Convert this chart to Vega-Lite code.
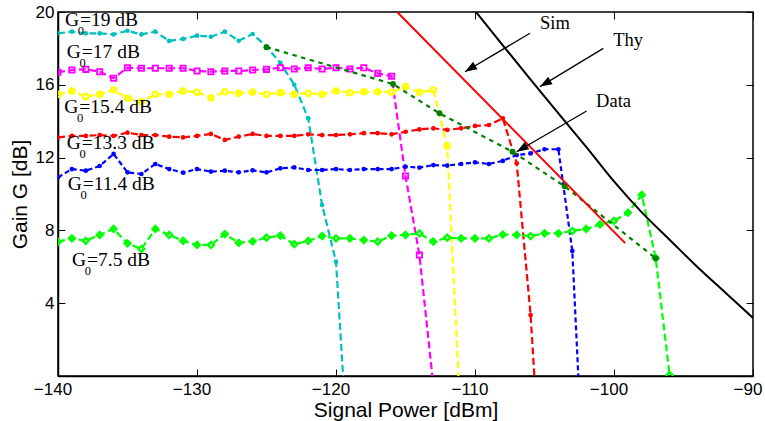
{
  "$schema": "https://vega.github.io/schema/vega-lite/v6.json",
  "width": 695,
  "height": 364,
  "autosize": "none",
  "padding": {"left": 58, "top": 12, "right": 12, "bottom": 45},
  "background": "white",
  "config": {
    "view": {"stroke": "black", "strokeWidth": 1.5},
    "axis": {
      "grid": false, "domainColor": "black", "domainWidth": 1.5,
      "tickColor": "black", "tickWidth": 1, "tickSize": -7,
      "labelFont": "Liberation Sans", "labelFontSize": 17, "labelColor": "black",
      "titleFont": "Liberation Sans", "titleFontSize": 21, "titleFontWeight": "normal", "titleColor": "black"
    }
  },
  "resolve": {"axis": {"x": "independent", "y": "independent"}},
  "datasets": {
    "g": [
      {"s":"c","x":-140,"g":18.83},{"s":"c","x":-139,"g":18.92},{"s":"c","x":-138,"g":18.83},{"s":"c","x":-137,"g":18.83},{"s":"c","x":-136,"g":18.77},{"s":"c","x":-135,"g":18.97},{"s":"c","x":-134,"g":18.77},{"s":"c","x":-133,"g":18.92},{"s":"c","x":-132,"g":18.41},{"s":"c","x":-131,"g":18.52},{"s":"c","x":-130,"g":18.70},{"s":"c","x":-129,"g":18.64},{"s":"c","x":-128,"g":18.92},{"s":"c","x":-127,"g":18.42},{"s":"c","x":-126,"g":18.79},{"s":"c","x":-125,"g":18.1},{"s":"c","x":-124,"g":17.2},{"s":"c","x":-123,"g":16.0},{"s":"c","x":-122,"g":14.16},{"s":"c","x":-121,"g":9.4},{"s":"c","x":-120,"g":6.28},{"s":"c","x":-119,"g":-6},
      {"s":"m","x":-140,"g":16.69},{"s":"m","x":-139,"g":16.81},{"s":"m","x":-138,"g":16.85},{"s":"m","x":-137,"g":16.72},{"s":"m","x":-136,"g":16.36},{"s":"m","x":-135,"g":16.94},{"s":"m","x":-134,"g":16.91},{"s":"m","x":-133,"g":16.91},{"s":"m","x":-132,"g":16.91},{"s":"m","x":-131,"g":16.91},{"s":"m","x":-130,"g":16.76},{"s":"m","x":-129,"g":16.72},{"s":"m","x":-128,"g":16.76},{"s":"m","x":-127,"g":16.76},{"s":"m","x":-126,"g":16.81},{"s":"m","x":-125,"g":16.85},{"s":"m","x":-124,"g":16.94},{"s":"m","x":-123,"g":16.87},{"s":"m","x":-122,"g":16.94},{"s":"m","x":-121,"g":16.87},{"s":"m","x":-120,"g":16.94},{"s":"m","x":-119,"g":16.87},{"s":"m","x":-118,"g":16.94},{"s":"m","x":-117,"g":16.63},{"s":"m","x":-116,"g":16.47},{"s":"m","x":-115,"g":10.99},{"s":"m","x":-114,"g":6.65},{"s":"m","x":-113,"g":-0.5},
      {"s":"y","x":-140,"g":15.48},{"s":"y","x":-139,"g":15.66},{"s":"y","x":-138,"g":15.35},{"s":"y","x":-137,"g":15.48},{"s":"y","x":-136,"g":15.71},{"s":"y","x":-135,"g":15.26},{"s":"y","x":-134,"g":15.07},{"s":"y","x":-133,"g":15.48},{"s":"y","x":-132,"g":15.48},{"s":"y","x":-131,"g":15.66},{"s":"y","x":-130,"g":15.59},{"s":"y","x":-129,"g":15.29},{"s":"y","x":-128,"g":15.62},{"s":"y","x":-127,"g":15.53},{"s":"y","x":-126,"g":15.6},{"s":"y","x":-125,"g":15.48},{"s":"y","x":-124,"g":15.57},{"s":"y","x":-123,"g":15.48},{"s":"y","x":-122,"g":15.53},{"s":"y","x":-121,"g":15.48},{"s":"y","x":-120,"g":15.66},{"s":"y","x":-119,"g":15.57},{"s":"y","x":-118,"g":15.62},{"s":"y","x":-117,"g":15.62},{"s":"y","x":-116,"g":15.59},{"s":"y","x":-115,"g":15.9},{"s":"y","x":-114,"g":15.59},{"s":"y","x":-113,"g":15.71},{"s":"y","x":-112,"g":12.64},{"s":"y","x":-111,"g":-3},
      {"s":"r","x":-140,"g":13.11},{"s":"r","x":-139,"g":13.19},{"s":"r","x":-138,"g":13.19},{"s":"r","x":-137,"g":13.24},{"s":"r","x":-136,"g":13.19},{"s":"r","x":-135,"g":13.37},{"s":"r","x":-134,"g":13.24},{"s":"r","x":-133,"g":13.24},{"s":"r","x":-132,"g":13.15},{"s":"r","x":-131,"g":13.11},{"s":"r","x":-130,"g":13.19},{"s":"r","x":-129,"g":13.30},{"s":"r","x":-128,"g":12.97},{"s":"r","x":-127,"g":13.15},{"s":"r","x":-126,"g":13.30},{"s":"r","x":-125,"g":13.19},{"s":"r","x":-124,"g":13.19},{"s":"r","x":-123,"g":13.19},{"s":"r","x":-122,"g":13.28},{"s":"r","x":-121,"g":13.24},{"s":"r","x":-120,"g":13.24},{"s":"r","x":-119,"g":13.28},{"s":"r","x":-118,"g":13.34},{"s":"r","x":-117,"g":13.34},{"s":"r","x":-116,"g":13.28},{"s":"r","x":-115,"g":13.42},{"s":"r","x":-114,"g":13.55},{"s":"r","x":-113,"g":13.61},{"s":"r","x":-112,"g":13.52},{"s":"r","x":-111,"g":13.61},{"s":"r","x":-110,"g":13.74},{"s":"r","x":-109,"g":13.79},{"s":"r","x":-108,"g":14.16},{"s":"r","x":-107,"g":11.69},{"s":"r","x":-106,"g":3.35},{"s":"r","x":-105,"g":-9},
      {"s":"b","x":-140,"g":10.92},{"s":"b","x":-139,"g":11.37},{"s":"b","x":-138,"g":11.28},{"s":"b","x":-137,"g":11.54},{"s":"b","x":-136,"g":12.20},{"s":"b","x":-135,"g":11.19},{"s":"b","x":-134,"g":11.10},{"s":"b","x":-133,"g":11.65},{"s":"b","x":-132,"g":11.37},{"s":"b","x":-131,"g":11.17},{"s":"b","x":-130,"g":11.37},{"s":"b","x":-129,"g":11.23},{"s":"b","x":-128,"g":11.28},{"s":"b","x":-127,"g":11.19},{"s":"b","x":-126,"g":11.30},{"s":"b","x":-125,"g":11.19},{"s":"b","x":-124,"g":11.41},{"s":"b","x":-123,"g":11.46},{"s":"b","x":-122,"g":11.32},{"s":"b","x":-121,"g":11.32},{"s":"b","x":-120,"g":11.37},{"s":"b","x":-119,"g":11.32},{"s":"b","x":-118,"g":11.37},{"s":"b","x":-117,"g":11.37},{"s":"b","x":-116,"g":11.37},{"s":"b","x":-115,"g":11.50},{"s":"b","x":-114,"g":11.45},{"s":"b","x":-113,"g":11.59},{"s":"b","x":-112,"g":11.56},{"s":"b","x":-111,"g":11.65},{"s":"b","x":-110,"g":11.74},{"s":"b","x":-109,"g":11.65},{"s":"b","x":-108,"g":11.82},{"s":"b","x":-107,"g":12.14},{"s":"b","x":-106,"g":12.23},{"s":"b","x":-105,"g":12.46},{"s":"b","x":-104,"g":12.46},{"s":"b","x":-103,"g":6.87},{"s":"b","x":-102,"g":-9},
      {"s":"g","x":-140,"g":7.38},{"s":"g","x":-139,"g":7.56},{"s":"g","x":-138,"g":7.43},{"s":"g","x":-137,"g":7.75},{"s":"g","x":-136,"g":8.08},{"s":"g","x":-135,"g":7.29},{"s":"g","x":-134,"g":6.98},{"s":"g","x":-133,"g":8.08},{"s":"g","x":-132,"g":7.75},{"s":"g","x":-131,"g":7.43},{"s":"g","x":-130,"g":7.20},{"s":"g","x":-129,"g":7.20},{"s":"g","x":-128,"g":7.80},{"s":"g","x":-127,"g":7.32},{"s":"g","x":-126,"g":7.40},{"s":"g","x":-125,"g":7.60},{"s":"g","x":-124,"g":7.71},{"s":"g","x":-123,"g":7.24},{"s":"g","x":-122,"g":7.42},{"s":"g","x":-121,"g":7.69},{"s":"g","x":-120,"g":7.56},{"s":"g","x":-119,"g":7.56},{"s":"g","x":-118,"g":7.47},{"s":"g","x":-117,"g":7.38},{"s":"g","x":-116,"g":7.71},{"s":"g","x":-115,"g":7.75},{"s":"g","x":-114,"g":7.84},{"s":"g","x":-113,"g":7.38},{"s":"g","x":-112,"g":7.60},{"s":"g","x":-111,"g":7.56},{"s":"g","x":-110,"g":7.56},{"s":"g","x":-109,"g":7.56},{"s":"g","x":-108,"g":7.77},{"s":"g","x":-107,"g":7.75},{"s":"g","x":-106,"g":7.69},{"s":"g","x":-105,"g":7.84},{"s":"g","x":-104,"g":7.84},{"s":"g","x":-103,"g":7.97},{"s":"g","x":-102,"g":8.08},{"s":"g","x":-101,"g":8.33},{"s":"g","x":-100,"g":8.53},{"s":"g","x":-99,"g":8.97},{"s":"g","x":-98,"g":9.95},{"s":"g","x":-97,"g":6.47},{"s":"g","x":-96,"g":0.05}
    ],
    "d": [
      {"x":-125,"g":18.07},{"x":-115.9,"g":16.04},{"x":-112.55,"g":14.43},{"x":-107.3,"g":12.32},{"x":-103.55,"g":10.42},{"x":-97.0,"g":6.47}
    ],
    "sim": [{"x":-115.6,"g":20},{"x":-99.2,"g":7.3}],
    "thy": [
      {"x":-110,"g":20.07},{"x":-108,"g":18.17},{"x":-106,"g":16.29},{"x":-104,"g":14.43},{"x":-102,"g":12.59},{"x":-100,"g":10.69},{"x":-98,"g":8.99},{"x":-96,"g":7.49},{"x":-94,"g":5.99},{"x":-92,"g":4.59},{"x":-90,"g":3.19}
    ],
    "arr": [
      {"x":-106.04,"y":18.83,"x2":-110.72,"y2":16.72},
      {"x":-100.77,"y":18.0,"x2":-105.32,"y2":15.9},
      {"x":-101.97,"y":14.56,"x2":-107.0,"y2":12.32}
    ],
    "lab": [
      {"x":-139.5,"y":19.23,"v":"=19 dB"},
      {"x":-139.37,"y":17.46,"v":"=17 dB"},
      {"x":-139.55,"y":14.47,"v":"=15.4 dB"},
      {"x":-139.37,"y":12.47,"v":"=13.3 dB"},
      {"x":-139.3,"y":10.22,"v":"=11.4 dB"},
      {"x":-138.99,"y":6.04,"v":"=7.5 dB"}
    ],
    "notes": [
      {"x":-105.32,"y":19.07,"t":"Sim"},
      {"x":-100.05,"y":18.15,"t":"Thy"},
      {"x":-101.29,"y":14.8,"t":"Data"}
    ]
  },
  "layer": [
    {
      "data": {"name": "g"},
      "mark": {"type": "line", "strokeWidth": 2.2, "clip": true},
      "encoding": {
        "x": {"field": "x", "type": "quantitative", "scale": {"domain": [-140, -90], "nice": false, "zero": false},
              "axis": {"orient": "bottom", "values": [-140,-130,-120,-110,-100,-90], "labelFlush": false, "labelPadding": 12, "labelOffset": -5.5, "title": "Signal Power [dBm]", "titlePadding": 2}},
        "y": {"field": "g", "type": "quantitative", "scale": {"domain": [0, 20], "nice": false, "zero": false},
              "axis": {"orient": "left", "values": [0,4,8,12,16,20], "labelExpr": "datum.value === 0 ? '' : datum.label", "labelPadding": 11, "title": "Gain G [dB]", "titlePadding": 5}},
        "color": {"field": "s", "type": "nominal", "scale": {"domain": ["c","m","y","r","b","g"], "range": ["#00BFBF","#FF00FF","#FFFF00","#FF0000","#0000FF","#00FF00"]}, "legend": null},
        "strokeDash": {"field": "s", "type": "nominal", "scale": {"domain": ["c","m","y","r","b","g"], "range": [[7,3.5],[7,3.5],[7,3.5],[7,3.5],[5,3],[7,3.5]]}, "legend": null}
      }
    },
    {
      "data": {"name": "g"},
      "transform": [{"filter": {"field": "s", "oneOf": ["c","r","b"]}}],
      "mark": {"type": "point", "shape": "circle", "filled": true, "size": 22, "opacity": 1, "clip": true},
      "encoding": {
        "x": {"field": "x", "type": "quantitative", "axis": null},
        "y": {"field": "g", "type": "quantitative", "axis": null},
        "color": {"field": "s", "type": "nominal", "legend": null}
      }
    },
    {
      "data": {"name": "g"},
      "transform": [{"filter": {"field": "s", "equal": "m"}}],
      "mark": {"type": "point", "shape": "square", "filled": false, "size": 28, "strokeWidth": 1.8, "color": "#FF00FF", "opacity": 1, "clip": true},
      "encoding": {
        "x": {"field": "x", "type": "quantitative", "axis": null},
        "y": {"field": "g", "type": "quantitative", "axis": null}
      }
    },
    {
      "data": {"name": "g"},
      "transform": [{"filter": {"field": "s", "equal": "y"}}],
      "mark": {"type": "point", "shape": "circle", "filled": false, "size": 28, "strokeWidth": 2.3, "color": "#FFFF00", "opacity": 1, "clip": true},
      "encoding": {
        "x": {"field": "x", "type": "quantitative", "axis": null},
        "y": {"field": "g", "type": "quantitative", "axis": null}
      }
    },
    {
      "data": {"name": "g"},
      "transform": [{"filter": {"field": "s", "equal": "g"}}],
      "mark": {"type": "point", "shape": "diamond", "filled": false, "size": 36, "strokeWidth": 2.3, "color": "#00FF00", "opacity": 1, "clip": true},
      "encoding": {
        "x": {"field": "x", "type": "quantitative", "axis": null},
        "y": {"field": "g", "type": "quantitative", "axis": null}
      }
    },
    {
      "data": {"name": "d"},
      "mark": {"type": "line", "color": "#008000", "strokeWidth": 2.2, "strokeDash": [4.5, 4.5], "clip": true},
      "encoding": {
        "x": {"field": "x", "type": "quantitative", "axis": null},
        "y": {"field": "g", "type": "quantitative", "axis": null}
      }
    },
    {
      "data": {"name": "d"},
      "mark": {"type": "point", "shape": "circle", "filled": true, "size": 36, "color": "#008000", "opacity": 1, "clip": true},
      "encoding": {
        "x": {"field": "x", "type": "quantitative", "axis": null},
        "y": {"field": "g", "type": "quantitative", "axis": null}
      }
    },
    {
      "data": {"name": "sim"},
      "mark": {"type": "line", "color": "#FF0000", "strokeWidth": 2, "clip": true},
      "encoding": {
        "x": {"field": "x", "type": "quantitative", "axis": null},
        "y": {"field": "g", "type": "quantitative", "axis": null}
      }
    },
    {
      "data": {"name": "thy"},
      "mark": {"type": "line", "color": "black", "strokeWidth": 2, "interpolate": "monotone", "clip": true},
      "encoding": {
        "x": {"field": "x", "type": "quantitative", "axis": {"orient": "top", "values": [-140,-130,-120,-110,-100,-90], "labels": false, "title": null, "domain": false}},
        "y": {"field": "g", "type": "quantitative", "axis": {"orient": "right", "values": [0,4,8,12,16,20], "labels": false, "title": null, "domain": false}}
      }
    },
    {
      "data": {"name": "arr"},
      "mark": {"type": "rule", "color": "black", "strokeWidth": 1.3},
      "encoding": {
        "x": {"field": "x", "type": "quantitative", "axis": null},
        "y": {"field": "y", "type": "quantitative", "axis": null},
        "x2": {"field": "x2"},
        "y2": {"field": "y2"}
      }
    },
    {
      "data": {"name": "arr"},
      "mark": {"type": "point", "shape": "M0,0L-0.36,1L0.36,1Z", "filled": true, "size": 576, "angle": 239.3, "color": "black", "opacity": 1, "strokeWidth": 0},
      "encoding": {
        "x": {"field": "x2", "type": "quantitative", "axis": null},
        "y": {"field": "y2", "type": "quantitative", "axis": null}
      }
    },
    {
      "data": {"name": "lab"},
      "mark": {"type": "text", "text": "G", "font": "Liberation Serif", "fontSize": 19.5, "align": "left", "baseline": "alphabetic", "color": "black"},
      "encoding": {
        "x": {"field": "x", "type": "quantitative", "axis": null},
        "y": {"field": "y", "type": "quantitative", "axis": null}
      }
    },
    {
      "data": {"name": "lab"},
      "mark": {"type": "text", "text": "0", "font": "Liberation Serif", "fontSize": 12.5, "align": "left", "baseline": "alphabetic", "dx": 12.7, "dy": 9, "color": "black"},
      "encoding": {
        "x": {"field": "x", "type": "quantitative", "axis": null},
        "y": {"field": "y", "type": "quantitative", "axis": null}
      }
    },
    {
      "data": {"name": "lab"},
      "mark": {"type": "text", "font": "Liberation Serif", "fontSize": 19.5, "align": "left", "baseline": "alphabetic", "dx": 15, "color": "black"},
      "encoding": {
        "x": {"field": "x", "type": "quantitative", "axis": null},
        "y": {"field": "y", "type": "quantitative", "axis": null},
        "text": {"field": "v"}
      }
    },
    {
      "data": {"name": "notes"},
      "mark": {"type": "text", "font": "Liberation Serif", "fontSize": 18.5, "align": "left", "baseline": "alphabetic", "color": "black"},
      "encoding": {
        "x": {"field": "x", "type": "quantitative", "axis": null},
        "y": {"field": "y", "type": "quantitative", "axis": null},
        "text": {"field": "t"}
      }
    }
  ]
}
